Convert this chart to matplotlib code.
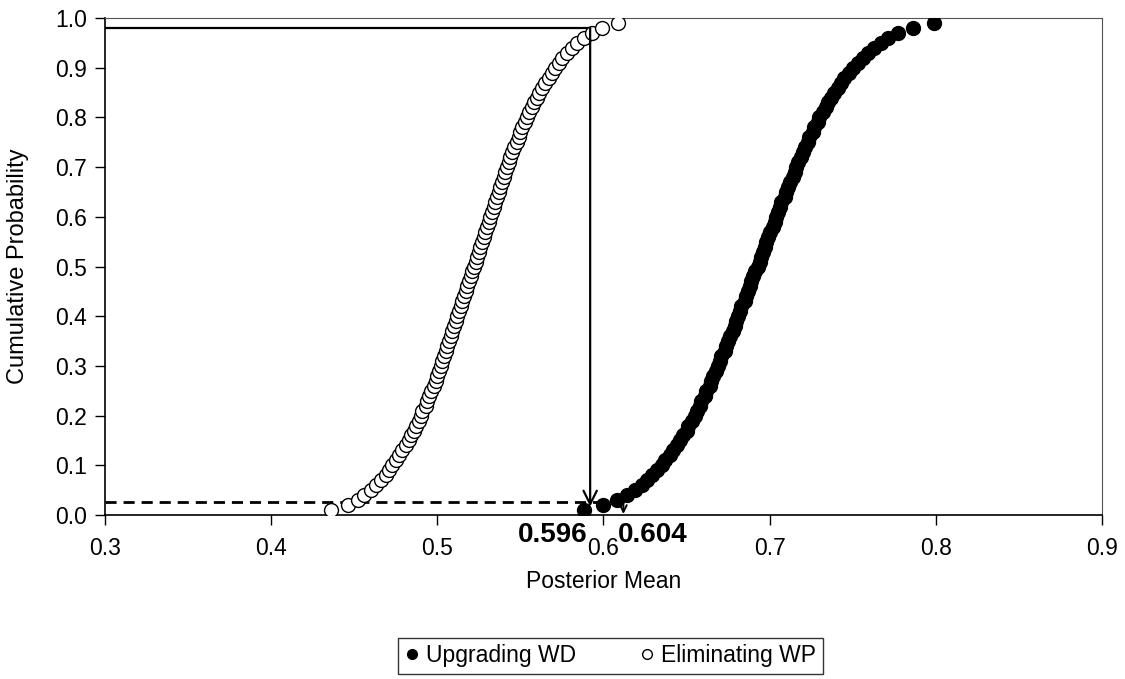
import matplotlib
matplotlib.use("Agg")
import matplotlib.pyplot as plt
from matplotlib.lines import Line2D

plt.rcParams['font.family'] = ['Liberation Sans', 'DejaVu Sans']

# cumulative probability levels (shared by both series)
cum_prob = [0.01, 0.02, 0.03, 0.04, 0.05, 0.06, 0.07, 0.08, 0.09, 0.10,
            0.11, 0.12, 0.13, 0.14, 0.15, 0.16, 0.17, 0.18, 0.19, 0.20,
            0.21, 0.22, 0.23, 0.24, 0.25, 0.26, 0.27, 0.28, 0.29, 0.30,
            0.31, 0.32, 0.33, 0.34, 0.35, 0.36, 0.37, 0.38, 0.39, 0.40,
            0.41, 0.42, 0.43, 0.44, 0.45, 0.46, 0.47, 0.48, 0.49, 0.50,
            0.51, 0.52, 0.53, 0.54, 0.55, 0.56, 0.57, 0.58, 0.59, 0.60,
            0.61, 0.62, 0.63, 0.64, 0.65, 0.66, 0.67, 0.68, 0.69, 0.70,
            0.71, 0.72, 0.73, 0.74, 0.75, 0.76, 0.77, 0.78, 0.79, 0.80,
            0.81, 0.82, 0.83, 0.84, 0.85, 0.86, 0.87, 0.88, 0.89, 0.90,
            0.91, 0.92, 0.93, 0.94, 0.95, 0.96, 0.97, 0.98, 0.99]

# posterior means
upgrading_wd = [0.588, 0.600, 0.608, 0.614, 0.619, 0.623, 0.626, 0.629, 0.632, 0.635,
                0.637, 0.640, 0.642, 0.644, 0.646, 0.648, 0.650, 0.651, 0.653, 0.655,
                0.656, 0.658, 0.659, 0.661, 0.662, 0.664, 0.665, 0.666, 0.668, 0.669,
                0.670, 0.671, 0.673, 0.674, 0.675, 0.676, 0.678, 0.679, 0.680, 0.681,
                0.682, 0.683, 0.685, 0.686, 0.687, 0.688, 0.689, 0.690, 0.691, 0.693,
                0.694, 0.695, 0.696, 0.697, 0.698, 0.699, 0.700, 0.702, 0.703, 0.704,
                0.705, 0.706, 0.707, 0.709, 0.710, 0.711, 0.712, 0.714, 0.715, 0.716,
                0.717, 0.719, 0.720, 0.721, 0.723, 0.724, 0.726, 0.727, 0.729, 0.730,
                0.732, 0.734, 0.735, 0.737, 0.739, 0.741, 0.743, 0.745, 0.748, 0.750,
                0.753, 0.756, 0.759, 0.763, 0.767, 0.771, 0.777, 0.786, 0.799]

eliminating_wp = [0.436, 0.446, 0.452, 0.456, 0.460, 0.463, 0.466, 0.469, 0.471, 0.473,
                  0.475, 0.477, 0.479, 0.481, 0.483, 0.484, 0.486, 0.487, 0.489, 0.490,
                  0.491, 0.493, 0.494, 0.495, 0.496, 0.498, 0.499, 0.500, 0.501, 0.502,
                  0.503, 0.504, 0.505, 0.506, 0.507, 0.508, 0.509, 0.510, 0.511, 0.512,
                  0.513, 0.514, 0.515, 0.516, 0.517, 0.518, 0.519, 0.520, 0.521, 0.522,
                  0.523, 0.524, 0.525, 0.526, 0.527, 0.528, 0.529, 0.530, 0.531, 0.532,
                  0.533, 0.534, 0.535, 0.536, 0.537, 0.538, 0.539, 0.540, 0.541, 0.542,
                  0.543, 0.544, 0.545, 0.546, 0.548, 0.549, 0.550, 0.551, 0.553, 0.554,
                  0.555, 0.557, 0.558, 0.560, 0.561, 0.563, 0.565, 0.567, 0.569, 0.571,
                  0.573, 0.575, 0.578, 0.581, 0.584, 0.588, 0.593, 0.599, 0.609]

# guide lines: 98th pct of WP / lower tail of WD
wp_cut, wp_prob = 0.592, 0.98
wd_cut, wd_prob = 0.612, 0.027
wp_label, wd_label = "0.596", "0.604"

x_ticks = [0.3, 0.4, 0.5, 0.6, 0.7, 0.8, 0.9]
y_ticks = [0.0, 0.1, 0.2, 0.3, 0.4, 0.5, 0.6, 0.7, 0.8, 0.9, 1.0]

fs = 16.5

fig = plt.figure(figsize=(11.25, 6.79), dpi=100)
ax = fig.add_axes([0.0933, 0.2415, 0.8862, 0.7320])

ax.plot(upgrading_wd, cum_prob, 'o', color='black', ms=10, zorder=3)
ax.plot(eliminating_wp, cum_prob, 'o', mfc='white', mec='black', mew=1, ms=10, zorder=3)

# solid guide with arrow
ax.plot([0.3, wp_cut], [wp_prob, wp_prob], color='black', lw=1.6, zorder=2)
ax.annotate('', xy=(wp_cut, 0.017), xytext=(wp_cut, wp_prob),
            arrowprops=dict(arrowstyle='->', lw=1.6, color='black',
                            shrinkA=0, shrinkB=0, mutation_scale=24), zorder=4)
# dashed guide with small arrow
ax.plot([0.3, wd_cut], [wd_prob, wd_prob], color='black', lw=2, ls=(0, (4, 2.5)), zorder=2)
ax.annotate('', xy=(wd_cut, 0.002), xytext=(wd_cut, wd_prob),
            arrowprops=dict(arrowstyle='->', lw=1.4, color='black',
                            shrinkA=0, shrinkB=0, mutation_scale=12), zorder=4)

ax.text(0.5905, -0.040, wp_label, ha='right', va='center', fontsize=20, fontweight='bold')
ax.text(0.6085, -0.040, wd_label, ha='left', va='center', fontsize=20, fontweight='bold')

ax.set_xlim(0.3, 0.9)
ax.set_ylim(0.0, 1.0)
ax.set_xticks(x_ticks)
ax.set_xticklabels([f"{v:.1f}" for v in x_ticks])
ax.set_yticks(y_ticks)
ax.set_yticklabels([f"{v:.1f}" for v in y_ticks])
ax.tick_params(direction='out', length=7, width=1, labelsize=fs)
ax.tick_params(axis='x', pad=9)
ax.tick_params(axis='y', pad=6)

for s in ['top', 'right']:
    ax.spines[s].set_color('#555555')
    ax.spines[s].set_linewidth(0.8)
for s in ['left', 'bottom']:
    ax.spines[s].set_linewidth(1.2)

ax.set_xlabel("Posterior Mean", fontsize=fs)
ax.xaxis.set_label_coords(0.5, -0.133)
ax.xaxis.label.set_va('center')
ax.set_ylabel("Cumulative Probability", fontsize=17)
ax.yaxis.set_label_coords(-0.087, 0.5)
ax.yaxis.label.set_va('center')

handles = [Line2D([], [], ls='none', marker='o', color='black', ms=7),
           Line2D([], [], ls='none', marker='o', mfc='white', mec='black', mew=1, ms=7)]
leg = ax.legend(handles, ["Upgrading WD", "Eliminating WP"], loc='center',
                bbox_to_anchor=(0.5427, 0.0339), bbox_transform=fig.transFigure,
                ncol=2, fontsize=fs, frameon=True, fancybox=False,
                handlelength=0.6, handletextpad=0.3, columnspacing=2.8,
                borderpad=0.3)
leg.get_frame().set_edgecolor('black')
leg.get_frame().set_linewidth(1)

fig.savefig("out.png", dpi=100)
